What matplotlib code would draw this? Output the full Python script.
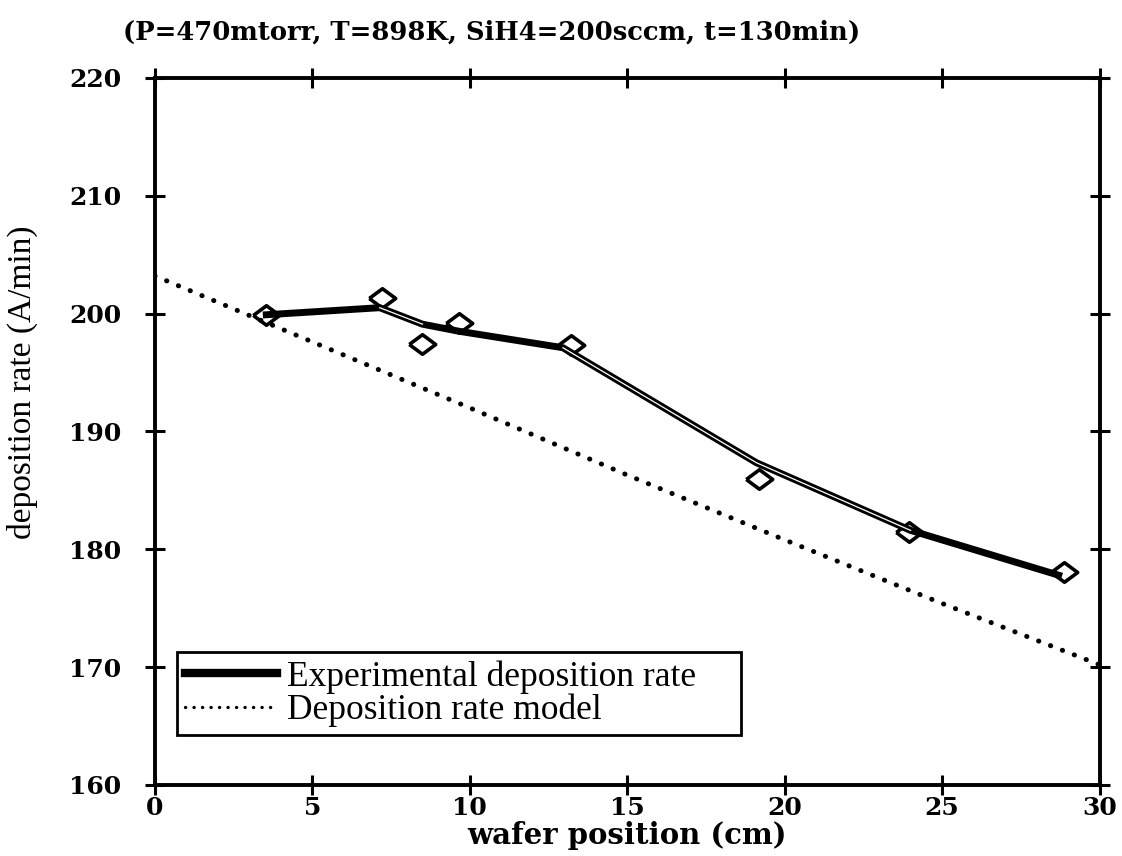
"""Deposition rate vs wafer position: measured points, fitted line and model."""

import matplotlib

matplotlib.use("Agg")
import matplotlib.pyplot as plt

# measured wafers (diamonds)
wafer_x = [3.54, 7.21, 8.47, 9.66, 13.23, 19.2, 23.95, 28.86]
wafer_rate = [199.9, 201.3, 197.45, 199.2, 197.3, 186.0, 181.5, 178.1]

# experimental deposition rate curve
exp_x = [3.54, 7.14, 8.5, 9.66, 12.96, 19.1, 24.0, 28.7]
exp_rate = [199.9, 200.5, 199.1, 198.5, 197.1, 187.35, 181.6, 177.8]

# deposition rate model
model_x = [0, 5, 10, 15, 20, 25, 30]
model_rate = [203.2, 197.6, 192.0, 186.3, 180.8, 175.4, 170.2]

x_ticks = [0, 5, 10, 15, 20, 25, 30]
y_ticks = [160, 170, 180, 190, 200, 210, 220]

fig = plt.figure(figsize=(11.22, 8.56), dpi=100)
ax = fig.add_axes([0.138, 0.083, 0.842, 0.826])

diamond = [(-1.35, 0), (0, 1), (1.35, 0), (0, -1), (-1.35, 0)]
ax.plot(wafer_x, wafer_rate, linestyle="none", marker=diamond, markersize=19,
        markerfacecolor="white", markeredgecolor="black", markeredgewidth=2.6,
        zorder=2)

ax.plot(exp_x, exp_rate, color="black", lw=5, solid_joinstyle="miter",
        label="Experimental deposition rate", zorder=3)
# thin white core on the hollow-looking segments
ax.plot(exp_x[1:3], exp_rate[1:3], color="white", lw=0.9, zorder=4)
ax.plot(exp_x[4:7], exp_rate[4:7], color="white", lw=0.9, zorder=4)

ax.plot(model_x, model_rate, color="black", lw=3.6, linestyle=(0, (0.05, 2.5)),
        dash_capstyle="round", label="Deposition rate model", zorder=3)

ax.set_xlim(0, 30)
ax.set_ylim(160, 220)
ax.set_xticks(x_ticks)
ax.set_yticks(y_ticks)
ax.tick_params(direction="inout", length=14, width=2.2, top=True, right=True,
               labeltop=False, labelright=False)
ax.tick_params(axis="x", pad=1)
ax.tick_params(axis="y", pad=17)
for lab in ax.get_xticklabels():
    lab.set_fontfamily("DejaVu Serif")
    lab.set_fontweight("bold")
    lab.set_fontsize(18)
for lab in ax.get_yticklabels():
    lab.set_fontfamily("DejaVu Serif")
    lab.set_fontweight("bold")
    lab.set_fontsize(18)
for sp in ax.spines.values():
    sp.set_linewidth(2.8)

ax.set_xlabel("wafer position (cm)", family="DejaVu Serif", fontweight="bold",
              fontsize=21, labelpad=1)
ax.set_ylabel("deposition rate (A/min)", family="Liberation Serif", fontsize=24)
ax.yaxis.set_label_coords(-0.124, 0.57)

fig.text(0.11, 0.962, "(P=470mtorr, T=898K, SiH4=200sccm, t=130min)",
         family="DejaVu Serif", fontweight="bold", fontsize=18.6, va="center",
         ha="left")

# legend box spans x 177..741 px in the reference
leg = ax.legend(loc="lower left", bbox_to_anchor=(0.0233, 0.0707, 0.597, 0.1),
                mode="expand", borderaxespad=0, fancybox=False,
                edgecolor="black", framealpha=1, labelspacing=0.0,
                handlelength=2.6, handletextpad=0.3, borderpad=0.22,
                prop={"family": "Liberation Serif", "size": 25.5})
leg.get_frame().set_linewidth(2)
for line in leg.get_lines():
    if line.get_label().startswith("Experimental"):
        line.set_linewidth(6)
    else:
        line.set_linewidth(2.4)

fig.savefig("out.png", dpi=100)
